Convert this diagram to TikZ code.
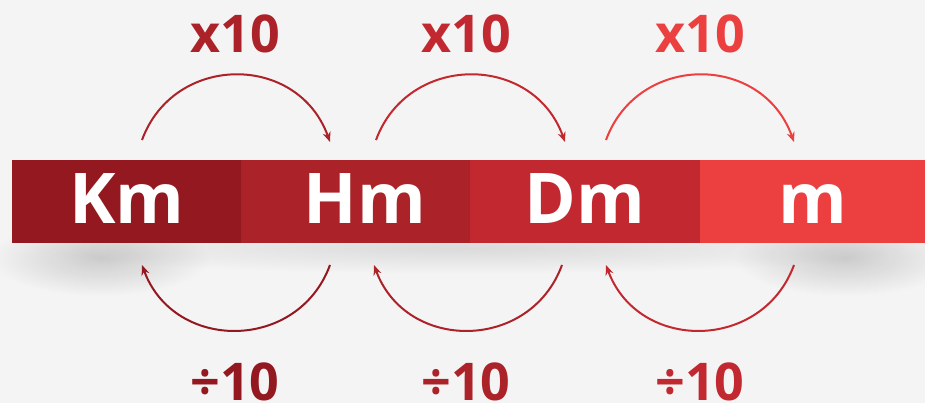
\documentclass[tikz,border=0pt]{standalone}
\usepackage{fontspec}
\setmainfont{Open Sans}
\usetikzlibrary{arrows.meta,fadings}
\definecolor{bg}{HTML}{F4F4F4}
\definecolor{ckm}{HTML}{931820}
\definecolor{chm}{HTML}{AB2228}
\definecolor{cdm}{HTML}{C22830}
\definecolor{cmm}{HTML}{EC4040}
\tikzfading[name=softblob, inner color=transparent!0, outer color=transparent!100]
\begin{document}
\begin{tikzpicture}[x=1pt,y=-1pt,
  seg/.style={inner sep=0pt,outer sep=0pt,draw=none,minimum height=83pt},
  unit/.style={text=white,font=\fontsize{70}{70}\selectfont\bfseries,anchor=base,inner sep=0pt},
  factor/.style={font=\fontsize{52}{52}\selectfont\bfseries,anchor=base,inner sep=0pt},
  hop/.style={line width=2pt,-{Stealth[length=10pt,width=8pt]}},
  shadowblob/.style={fill=black,path fading=softblob}]
\fill[bg] (0,0) rectangle (925,403);
\useasboundingbox (0,0) rectangle (925,403);
% shadow
\fill[shadowblob,opacity=0.10] (470,248) ellipse [x radius=440pt, y radius=26pt];
\fill[shadowblob,opacity=0.16] (100,258) ellipse [x radius=110pt, y radius=38pt];
\fill[shadowblob,opacity=0.16] (845,258) ellipse [x radius=110pt, y radius=38pt];
% bar
\node[seg,fill=ckm,minimum width=229pt] (skm) at (126.5,201.5) {};
\node[seg,fill=chm,minimum width=229pt] (shm) at (355.5,201.5) {};
\node[seg,fill=cdm,minimum width=230pt] (sdm) at (585,201.5) {};
\node[seg,fill=cmm,minimum width=225pt] (sm) at (812.5,201.5) {};
\node[unit] (km) at (127,224) {Km};
\node[unit] (hm) at (365,224) {Hm};
\node[unit] (dm) at (585,224) {Dm};
\node[unit] (m) at (813,224) {m};
% labels
\node[factor,text=chm] (x1) at (235,53) {x10};
\node[factor,text=cdm] (x2) at (466,53) {x10};
\node[factor,text=cmm] (x3) at (700,53) {x10};
\node[factor,text=ckm] (d1) at (235,400) {÷10};
\node[factor,text=chm] (d2) at (466,400) {÷10};
\node[factor,text=cdm] (d3) at (700,400) {÷10};
% arc end points
\coordinate (a1) at (142,140); \coordinate (b1) at (330,142);
\coordinate (a2) at (376,140); \coordinate (b2) at (565,142);
\coordinate (a3) at (606,140); \coordinate (b3) at (794,142);
\coordinate (c1) at (330,265); \coordinate (e1) at (142,265);
\coordinate (c2) at (562,265); \coordinate (e2) at (374,265);
\coordinate (c3) at (794,265); \coordinate (e3) at (606,265);
\draw[hop,chm] (a1) .. controls (174,53) and (298,53) .. (b1);
\draw[hop,cdm] (a2) .. controls (408,53) and (533,53) .. (b2);
\draw[hop,cmm] (a3) .. controls (638,53) and (762,53) .. (b3);
\draw[hop,ckm] (c1) .. controls (298,352) and (174,352) .. (e1);
\draw[hop,chm] (c2) .. controls (530,352) and (406,352) .. (e2);
\draw[hop,cdm] (c3) .. controls (762,352) and (638,352) .. (e3);
\end{tikzpicture}
\end{document}
